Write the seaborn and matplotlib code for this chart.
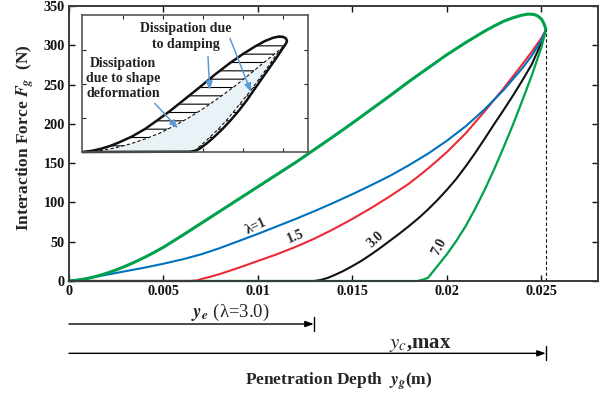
import numpy as np
import pandas as pd
import matplotlib
matplotlib.use('Agg')
import matplotlib.pyplot as plt
import seaborn as sns

# ---------------- data ----------------
yc_max = 0.02524      # maximum penetration
f_end = 319.5         # force at maximum penetration
ye_lambda3 = 0.01296  # residual penetration for lambda = 3.0

# loading branch (common to all lambda)
load_x = [0, 0.0005, 0.001, 0.0015, 0.002, 0.0025, 0.003, 0.0035, 0.004, 0.0045, 0.005,
          0.006, 0.007, 0.008, 0.009, 0.010, 0.011, 0.012, 0.013, 0.014, 0.015, 0.016,
          0.017, 0.018, 0.019, 0.020, 0.021, 0.022, 0.0225, 0.023, 0.0235, 0.024, 0.0243,
          0.0246, 0.0248, 0.0250, 0.0251, 0.02518, 0.02522, yc_max]
load_f = [0, 1.1, 3.3, 6.3, 9.9, 14.2, 19.0, 24.3, 30.1, 36.3, 43.0,
          58.0, 73.5, 89.0, 104.5, 120.0, 135.5, 151.0, 167.5, 184.0, 201.0, 218.5,
          236.0, 254.0, 271.0, 288.0, 303.5, 318.0, 324.5, 330.5, 335.0, 338.5, 339.7,
          339.3, 337.5, 333.5, 329.5, 325.0, 322.0, f_end]

# unloading branches
l1_x = [0, 0.001, 0.002, 0.003, 0.004, 0.005, 0.006, 0.007, 0.008, 0.009, 0.010, 0.011,
        0.012, 0.013, 0.014, 0.015, 0.016, 0.017, 0.018, 0.019, 0.020, 0.021, 0.022,
        0.023, 0.024, 0.0245, 0.025, yc_max]
l1_f = [0, 3.5, 8, 12.5, 17, 22, 27.5, 34, 42, 51, 60, 69.5,
        79, 89, 99.5, 110.5, 122, 134, 147.5, 162, 178.5, 197, 218.5,
        243, 271, 287, 306, f_end]

l15_x = [0, 0.0064, 0.0068, 0.007, 0.0075, 0.008, 0.009, 0.010, 0.011, 0.012, 0.013, 0.014,
         0.015, 0.016, 0.017, 0.018, 0.019, 0.020, 0.021, 0.022, 0.023, 0.024, 0.0245,
         0.025, yc_max]
l15_f = [0, 0, 0.8, 2.5, 5.5, 9, 17, 25.5, 34, 43.5, 54, 66,
         79, 93, 108, 124, 143, 164, 188, 216, 245, 276, 292,
         309, f_end]

l3_x = [0, ye_lambda3, 0.0133, 0.0137, 0.014, 0.0145, 0.015, 0.0155, 0.016, 0.0165, 0.017,
        0.0175, 0.018, 0.0185, 0.019, 0.0195, 0.020, 0.0205, 0.021, 0.0215, 0.022, 0.0225,
        0.023, 0.0235, 0.024, 0.0245, 0.025, yc_max]
l3_f = [0, 0, 1.2, 4, 7, 12.5, 19, 26, 34, 42.5, 51.5,
        60.5, 70, 80, 91, 103, 116, 130, 146, 163, 181, 199.5,
        217.5, 236, 255.5, 276, 303, f_end]

l7_x = [0, 0.01844, 0.0187, 0.019, 0.0195, 0.020, 0.0205, 0.021, 0.0215, 0.022, 0.0225,
        0.023, 0.0235, 0.024, 0.0245, 0.025, yc_max]
l7_f = [0, 0, 1.5, 4, 19, 34, 51, 70, 92, 116, 142,
        170, 199, 230, 262, 297, f_end]

curve_labels = ['λ=1', '1.5', '3.0', '7.0']
label_x = [0.00991, 0.01198, 0.01622, 0.01958]
label_f = [70, 56.4, 52.2, 43.7]
label_rot = [25, 22, 42, 62]

x_ticks = [0, 0.005, 0.01, 0.015, 0.02, 0.025]
x_tick_labels = ['0', '0.005', '0.01', '0.015', '0.02', '0.025']
y_ticks = [0, 50, 100, 150, 200, 250, 300, 350]

# inset: schematic hysteresis loop (arbitrary units)
in_up_x = [1, 10, 18, 28, 38, 50, 63, 75, 88, 103, 118, 133, 148, 161, 173, 183, 191, 197,
           201, 204, 205, 204, 203]
in_up_y = [0, 1.2, 3, 6, 10, 15.5, 23, 31.5, 41, 53, 65, 77.5, 89, 98, 105.5, 111, 114.2,
           115.5, 115.2, 113.5, 111, 108.5, 107]
in_mid_x = [1, 18, 33, 48, 63, 78, 93, 108, 123, 138, 153, 168, 180, 190, 198, 203]
in_mid_y = [0, 1.5, 4, 8, 13, 19, 26.5, 35, 44.5, 55, 66, 78, 88, 96, 102.5, 107]
in_low_x = [1, 108, 113, 118, 124, 131, 140, 148, 157, 165, 173, 181, 188, 194, 199, 203]
in_low_y = [0, 0.3, 1.2, 3.5, 8, 14, 22.5, 31, 41.5, 52, 63.5, 75, 85, 93.5, 101, 107]
in_lowd_x = [112, 116, 121, 128, 135, 143, 151, 159, 168, 176, 184, 191, 197, 203]
in_lowd_y = [0.5, 4, 8.5, 15, 21.5, 30, 39.5, 49.5, 60.5, 71.5, 82.5, 92.5, 100.5, 107]
in_x_ticks = [41, 81, 121, 161, 201]
in_y_ticks = [34, 68, 102]

# ---------------- style ----------------
sns.set_style('ticks')
plt.rcParams['font.family'] = ['Liberation Serif', 'DejaVu Serif']
plt.rcParams['mathtext.fontset'] = 'stix'
plt.rcParams['hatch.linewidth'] = 0.8

BLUE = '#0072BD'
RED = '#EC2A36'
GREEN = '#00A14B'
BLACK = '#111111'
SPINE = '#3a3a3a'
ARROWC = '#5B9BD5'

fig = plt.figure(figsize=(6.05, 3.95), dpi=100)
ax = fig.add_axes([69 / 605, (395 - 281) / 395, 529 / 605, 275 / 395])

def line(x, y, color, lw, ls='-', a=ax, sort=True):
    df = pd.DataFrame({'x': x, 'y': y})
    sns.lineplot(data=df, x='x', y='y', color=color, lw=lw, ls=ls, ax=a,
                 estimator=None, sort=sort, clip_on=False)

line(l3_x, l3_f, BLACK, 1.5)
line(l15_x, l15_f, RED, 1.5)
line(l1_x, l1_f, BLUE, 1.5)
line(l7_x, l7_f, GREEN, 1.6)
line(load_x, load_f, GREEN, 2.2)
ax.plot([yc_max, yc_max], [0, f_end], ls=(0, (3, 2)), color=BLACK, lw=0.8)

for t, x, f, r in zip(curve_labels, label_x, label_f, label_rot):
    ax.text(x, f, t, rotation=r, ha='center', va='center', fontsize=10,
            fontweight='bold', rotation_mode='anchor')

ax.set_xlim(0, 0.028)
ax.set_ylim(0, 350)
ax.set_xticks(x_ticks)
ax.set_xticklabels(x_tick_labels)
ax.set_yticks(y_ticks)
ax.set_xlabel('')
ax.set_ylabel('')
ax.tick_params(direction='in', length=4, width=1, top=True, right=True,
               labelsize=10.3, pad=3, colors=BLACK)
for lab in ax.get_xticklabels() + ax.get_yticklabels():
    lab.set_fontweight('bold')
for s in ax.spines.values():
    s.set_color(SPINE)
    s.set_linewidth(1.4)
    s.set_visible(True)

# dimension arrows below the axis
trans = ax.get_xaxis_transform()
for xend, yy in [(ye_lambda3, -0.1564), (yc_max, -0.263)]:
    ax.annotate('', xy=(xend, yy), xytext=(0, yy), xycoords=trans, textcoords=trans,
                arrowprops=dict(arrowstyle='-|>,head_length=0.5,head_width=0.18',
                                color='black', lw=1, shrinkA=0, shrinkB=0),
                annotation_clip=False)
    ax.plot([xend, xend], [yy - 0.026, yy + 0.026], transform=trans, color='black',
            lw=1, clip_on=False)

ax.text(0.00854, -0.131, r'$\mathbfit{y}_{\mathbfit{e}}$ (λ=3.0)', transform=trans,
        ha='center', va='baseline', fontsize=13.5, clip_on=False)
ax.text(0.01861, -0.2436, r'$y_{c}$,max', transform=trans, ha='center',
        va='baseline', fontsize=15, fontweight='bold', clip_on=False)

fig.text(338.5 / 605, (395 - 385) / 395, r'Penetration Depth  $\mathbfit{y}_{\mathbfit{g}}$(m)',
         ha='center', va='baseline', fontsize=12.5, fontweight='bold')
fig.text(25 / 605, (395 - 138) / 395, r'Interaction Force $\mathbfit{F}_{\mathbfit{g}}$  (N)',
         ha='center', va='center', rotation=90, fontsize=12.5, fontweight='bold')

# ---------------- inset ----------------
axi = fig.add_axes([82 / 605, (395 - 152) / 395, 226 / 605, 137 / 395])
axi.set_facecolor('white')
axi.set_xlim(0, 226)
axi.set_ylim(0, 137)

up_x = np.array(in_up_x); up_y = np.array(in_up_y)
mid_x = np.array(in_mid_x); mid_y = np.array(in_mid_y)
low_x = np.array(in_low_x); low_y = np.array(in_low_y)
lowd_x = np.array(in_lowd_x); lowd_y = np.array(in_lowd_y)

axi.fill(np.r_[mid_x, low_x[::-1]], np.r_[mid_y, low_y[::-1]], facecolor='#E9F3F7',
         edgecolor='none', lw=0)
tail = low_x >= 108
axi.fill(np.r_[lowd_x, low_x[tail][::-1]], np.r_[lowd_y, low_y[tail][::-1]],
         facecolor='white', edgecolor='black', hatch='--', lw=0)
axi.fill(np.r_[up_x, mid_x[::-1]], np.r_[up_y, mid_y[::-1]], facecolor='white',
         edgecolor='black', hatch='--', lw=0)

line(in_mid_x, in_mid_y, BLACK, 0.8, ls=(0, (3, 2)), a=axi, sort=False)
line(in_lowd_x, in_lowd_y, BLACK, 0.8, ls=(0, (3, 2)), a=axi, sort=False)
line(in_up_x, in_up_y, BLACK, 1.8, a=axi, sort=False)
line(in_low_x, in_low_y, BLACK, 1.8, a=axi, sort=False)

for (x0, y0), (x1, y1) in [((72.7, 48.7), (96, 23.7)),
                           ((126, 95.3), (127.7, 62)),
                           ((148, 113.7), (169, 60))]:
    axi.annotate('', xy=(x1, y1), xytext=(x0, y0),
                 arrowprops=dict(arrowstyle='-|>,head_length=0.5,head_width=0.2',
                                 color=ARROWC, lw=1.1, shrinkA=0, shrinkB=0))

axi.text(103.5, 115.3, 'Dissipation due\nto damping', ha='center', va='center',
         fontsize=10, fontweight='bold', linespacing=1.3, color='#222222')
axi.text(41, 73.7, 'Dissipation\ndue to shape\ndeformation', ha='center', va='center',
         fontsize=10, fontweight='bold', linespacing=1.2, color='#222222')

axi.set_xticks(in_x_ticks)
axi.set_yticks(in_y_ticks)
axi.set_xlabel('')
axi.set_ylabel('')
axi.tick_params(direction='in', length=3, width=0.8, top=True, right=True,
                labelbottom=False, labelleft=False)
for s in axi.spines.values():
    s.set_color('#555555')
    s.set_linewidth(1.2)
    s.set_visible(True)

fig.savefig('out.png', dpi=100)
